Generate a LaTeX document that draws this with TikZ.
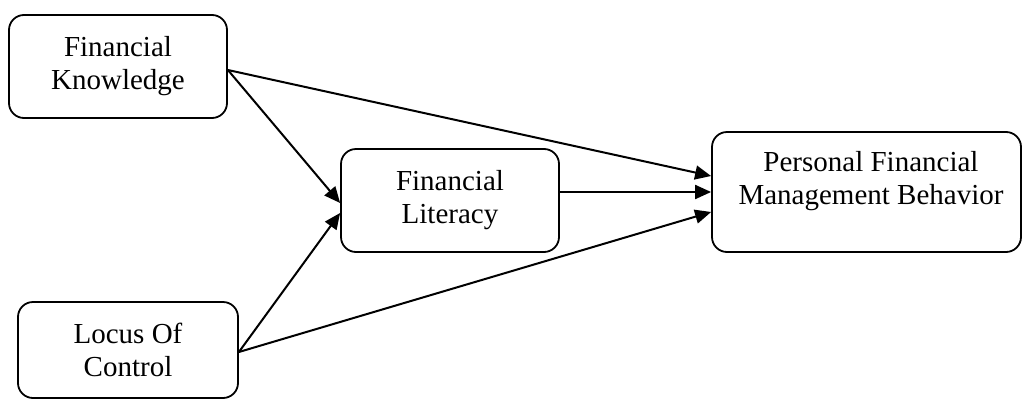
\documentclass[tikz,border=0pt]{standalone}
\usepackage{fontspec}
\setmainfont{Liberation Serif}
\usetikzlibrary{arrows.meta}
\begin{document}
\begin{tikzpicture}[x=1pt,y=1pt,
  box/.style={draw, line width=1.8pt, rounded corners=15pt, inner sep=0pt},
  lbl/.style={align=center, font=\fontsize{29}{33}\selectfont, inner sep=0pt},
  arr/.style={line width=2pt, -{Triangle[length=16pt,width=14pt]}}]
\useasboundingbox (0,0) rectangle (1022,-399);
\node[box, lbl, minimum width=218pt, minimum height=103pt] (fk) at (118,-66.5) {Financial\\Knowledge};
\node[box, lbl, minimum width=220pt, minimum height=96pt] (loc) at (128,-350) {Locus Of\\Control};
\node[box, lbl, minimum width=218pt, minimum height=103pt] (fl) at (450,-200.5) {Financial\\Literacy};
\node[box, minimum width=309pt, minimum height=120pt] (pfmb) at (866.5,-192) {};
\node[lbl] (pfmbtext) at (871,-181) {Personal Financial\\Management Behavior};
\draw[arr] ([yshift=-3.5pt]fk.east) -- ([yshift=16pt]pfmb.west);
\draw[arr] ([yshift=-3.5pt]fk.east) -- ([yshift=-2.5pt]fl.west);
\draw[arr] (fl.east |- pfmb.west) -- (pfmb.west);
\draw[arr] ([yshift=-2pt]loc.east) -- ([yshift=-12.5pt]fl.west);
\draw[arr] ([yshift=-2pt]loc.east) -- ([yshift=-20pt]pfmb.west);
\end{tikzpicture}
\end{document}
